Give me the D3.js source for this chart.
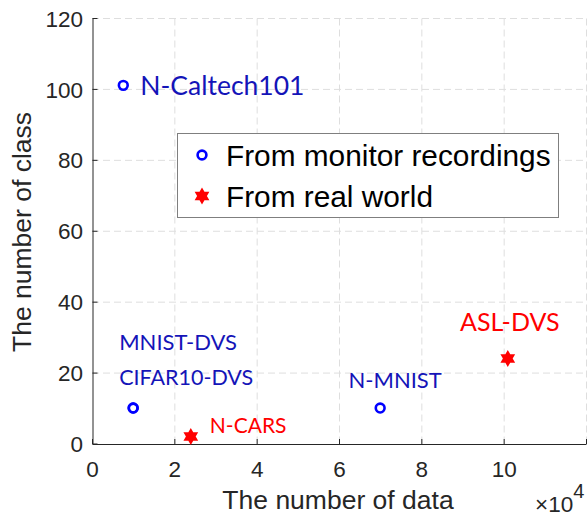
<!DOCTYPE html>
<html>
<head>
<meta charset="utf-8">
<script src="https://cdn.jsdelivr.net/npm/d3@7"></script>
<style>
    body { margin: 0; background: #fff; }
    svg { display: block; }
    .tick-label { font-family: "Liberation Sans", Arial, sans-serif; font-size: 22.5px; fill: #262626; }
    .axis-title { font-family: "Liberation Sans", Arial, sans-serif; font-size: 26.5px; fill: #262626; }
    .point-label { font-family: Lato, sans-serif; }
    .legend-text { font-family: "Liberation Sans", Arial, sans-serif; font-size: 29.8px; fill: #000; }
</style>
</head>
<body>
<svg id="chart" width="587" height="516"></svg>
<script>
// data (x in units of 10^4 samples, y = number of classes)
var monitorNames = ["N-Caltech101", "MNIST-DVS", "CIFAR10-DVS", "N-MNIST"];
var monitorData = [0.76, 1.0, 1.0, 7.0];
var monitorClass = [101, 10, 10, 10];

var realNames = ["N-CARS", "ASL-DVS"];
var realData = [2.4, 10.1];
var realClass = [2, 24];

var xTicks = [0, 2, 4, 6, 8, 10];
var yTicks = [0, 20, 40, 60, 80, 100, 120];
var legendLabels = ["From monitor recordings", "From real world"];

// where each label sits relative to its marker, and its size
var labelStyle = {
    "N-Caltech101": {dx: 17, dy: 9.5, anchor: "start", size: 26.5},
    "MNIST-DVS": {dx: -14, dy: -58, anchor: "start", size: 22},
    "CIFAR10-DVS": {dx: -14, dy: -23, anchor: "start", size: 21.5},
    "N-MNIST": {dx: 15, dy: -20, anchor: "middle", size: 22},
    "N-CARS": {dx: 19, dy: -3, anchor: "start", size: 21},
    "ASL-DVS": {dx: 2, dy: -27, anchor: "middle", size: 25}
};

var blue = "#0000ff", blueText = "#1414b8", red = "#ff0000";

var svg = d3.select("#chart");
var x = d3.scaleLinear().domain([0, 12]).range([92, 586]);
var y = d3.scaleLinear().domain([0, 120]).range([443.5, 18]);

function hexagram(R) {
    var pts = [];
    var r = R / Math.sqrt(3);
    for (var i = 0; i < 12; i++) {
        var a = -Math.PI / 2 + i * Math.PI / 6;
        var rr = i % 2 == 0 ? R : r;
        pts.push([rr * Math.cos(a), rr * Math.sin(a)]);
    }
    return d3.line()(pts) + "Z";
}

// grid
var grid = svg.append("g").attr("stroke", "#dedede").attr("stroke-dasharray", "7,4").attr("stroke-width", 1);
grid.selectAll(".gx").data(xTicks.slice(1).concat([12])).enter().append("line")
    .attr("x1", d => x(d) + 0.5).attr("x2", d => x(d) + 0.5)
    .attr("y1", y(0)).attr("y2", y(120));
grid.selectAll(".gy").data(yTicks.slice(1)).enter().append("line")
    .attr("x1", x(0)).attr("x2", 587)
    .attr("y1", d => y(d) + 0.5).attr("y2", d => y(d) + 0.5);

// axes (MATLAB style, ticks inside)
var xAxis = svg.append("g").attr("transform", "translate(0," + (y(0) + 0.5) + ")")
    .call(d3.axisBottom(x).tickValues(xTicks.concat([12])).tickSizeInner(-5).tickSizeOuter(0).tickFormat(d => d == 12 ? "" : d));
var yAxis = svg.append("g").attr("transform", "translate(" + (x(0) + 0.5) + ",0)")
    .call(d3.axisLeft(y).tickValues(yTicks).tickSizeInner(-5).tickSizeOuter(0));
[xAxis, yAxis].forEach(function(a) {
    a.select(".domain").attr("stroke", "#262626");
    a.selectAll(".tick line").attr("stroke", "#262626");
    a.selectAll(".tick text").attr("class", "tick-label").attr("font-family", null).attr("font-size", null).attr("fill", null);
});
xAxis.selectAll(".tick text").attr("y", 33).attr("dy", 0);
yAxis.selectAll(".tick text").attr("x", -9.5).attr("dy", "0.36em");

svg.append("text").attr("class", "axis-title").attr("text-anchor", "middle")
    .attr("x", 338).attr("y", 509).text("The number of data");
svg.append("text").attr("class", "axis-title").attr("text-anchor", "middle")
    .attr("transform", "translate(31,232) rotate(-90)").text("The number of class");

// exponent of the x axis
var expo = svg.append("text").attr("class", "tick-label").attr("x", 535).attr("y", 512);
expo.append("tspan").text("×10");
expo.append("tspan").attr("dy", -14).attr("font-size", 20).text("4");

// points
var monitor = monitorNames.map((n, i) => ({name: n, x: monitorData[i], y: monitorClass[i]}));
var real = realNames.map((n, i) => ({name: n, x: realData[i], y: realClass[i]}));

svg.append("g").selectAll("circle").data(monitor).enter().append("circle")
    .attr("cx", d => x(d.x)).attr("cy", d => y(d.y)).attr("r", 4.4)
    .attr("fill", "none").attr("stroke", blue).attr("stroke-width", 2.6);
svg.append("g").selectAll("path").data(real).enter().append("path")
    .attr("transform", d => "translate(" + x(d.x) + "," + y(d.y) + ")")
    .attr("d", hexagram(8.5)).attr("fill", red);

svg.append("g").selectAll("text").data(monitor.concat(real)).enter().append("text")
    .attr("class", "point-label")
    .attr("x", d => x(d.x) + labelStyle[d.name].dx)
    .attr("y", d => y(d.y) + labelStyle[d.name].dy)
    .attr("text-anchor", d => labelStyle[d.name].anchor)
    .attr("font-size", d => labelStyle[d.name].size)
    .attr("fill", d => realNames.indexOf(d.name) >= 0 ? red : blueText)
    .text(d => d.name);

// legend
var legend = svg.append("g");
legend.append("rect").attr("x", 177.5).attr("y", 133.5).attr("width", 381).attr("height", 84)
    .attr("fill", "#fff").attr("stroke", "#7f7f7f").attr("stroke-width", 1);
legend.append("circle").attr("cx", 202).attr("cy", 155).attr("r", 4.4)
    .attr("fill", "none").attr("stroke", blue).attr("stroke-width", 2.6);
legend.append("path").attr("transform", "translate(202,196)").attr("d", hexagram(8.5)).attr("fill", red);
legend.selectAll("text").data(legendLabels).enter().append("text")
    .attr("class", "legend-text").attr("x", 226).attr("y", (d, i) => 166 + i * 40.5).text(d => d);
</script>
</body>
</html>
